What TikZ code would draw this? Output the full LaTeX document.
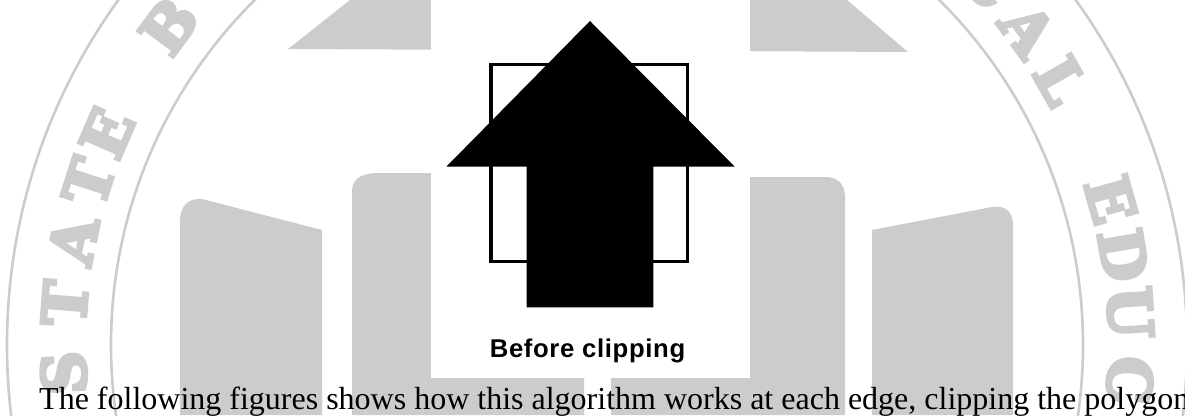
\documentclass[tikz,border=0pt]{standalone}
\usepackage{fontspec}
\setmainfont{Liberation Serif}
\newfontfamily\labelfont[LetterSpace=2.5]{Liberation Sans}
\newfontfamily\sealfont{DejaVu Serif}
\newcommand\heavyglyph[1]{\special{pdf:literal direct 2 Tr 3.5 w 0.8 G}#1\special{pdf:literal direct 0 Tr 1 w 0 G}}
\usetikzlibrary{calc}
\definecolor{sealgrey}{RGB}{204,204,204}
\begin{document}
\begin{tikzpicture}[x=1pt,y=-1pt,
  sealline/.style={draw=sealgrey,line width=2.6pt},
  sealshape/.style={fill=sealgrey},
  sealletter/.style={text=sealgrey,inner sep=0pt,font=\sealfont\bfseries\fontsize{60}{60}\selectfont},
  frameline/.style={draw=black,line width=3.5pt},
  arrowshape/.style={fill=black},
  caption/.style={inner sep=0pt,anchor=base,font=\labelfont\bfseries\fontsize{25.7}{26}\selectfont},
  bodytext/.style={inner sep=0pt,anchor=base west,font=\fontsize{32}{32}\selectfont}]
\useasboundingbox (0,0) rectangle (1185,415);
\clip (0,0) rectangle (1185,415);
\fill[white] (0,0) rectangle (1185,415);
% watermark seal
\coordinate (c) at (597,345);
\draw[sealline] (c) circle[radius=590pt];
\draw[sealline] (c) circle[radius=486pt];
\foreach \a/\l [count=\i] in {183/S,175.5/T,168.7/A,162.2/T,156.6/E,143.3/B,43/C,36.2/A,29.7/L,15.8/E,9.7/D,3.5/U,-3.8/C}
  \node[sealletter,rotate=\a-90] (L\i) at ($(c)+(\a:534pt)$) {\heavyglyph{\l}};
% pediment
\fill[sealshape] (288,49) -- (350,0) -- (847,0) -- (908,52) -- cycle;
% columns
\fill[sealshape] (180,415) -- (180,222) .. controls (180,206) and (188,198) .. (202,199) -- (322,230) -- (322,415) -- cycle;
\fill[sealshape] (352,415) -- (352,192) .. controls (352,179) and (360,174) .. (376,173) -- (584,173) -- (584,415) -- cycle;
\fill[sealshape] (611,415) -- (611,177) -- (825,177) .. controls (839,177) and (845,185) .. (845,198) -- (845,415) -- cycle;
\fill[sealshape] (872,415) -- (872,230) -- (992,207) .. controls (1006,205) and (1013,212) .. (1013,226) -- (1013,415) -- cycle;
% white panel of the figure
\fill[white] (431,0) rectangle (750,378);
% clip window
\draw[frameline] (491,64.7) rectangle (687.5,261.3);
% arrow polygon
\fill[arrowshape] (590,21) -- (734.5,166.5) -- (653.3,166.5) -- (653.3,307.3) -- (526.7,307.3) -- (526.7,166.5) -- (446.5,166.5) -- cycle;
\node[caption] (cap) at (587.5,357) {Before clipping};
\node[bodytext] (txt) at (39,409) {The following figures shows how this algorithm works at each edge, clipping the polygon};
\end{tikzpicture}
\end{document}
